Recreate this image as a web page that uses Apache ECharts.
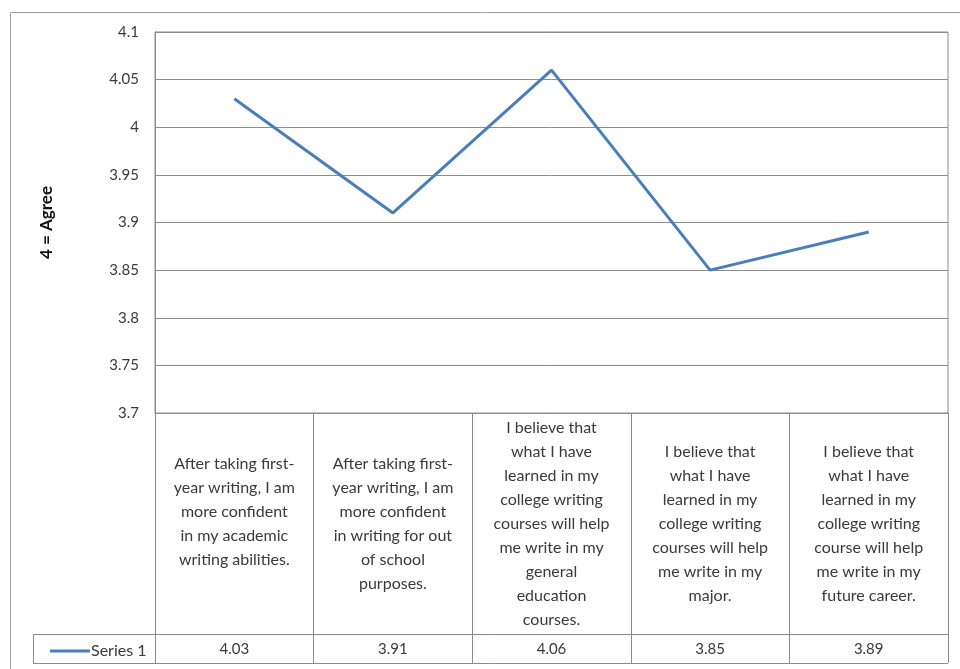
<!DOCTYPE html>
<html>
<head>
<meta charset="utf-8">
<script src="https://cdn.jsdelivr.net/npm/echarts@6/dist/echarts.min.js"></script>
<style>
  html, body { margin: 0; padding: 0; background: #fff; }
  #chart { width: 960px; height: 669px; }
</style>
</head>
<body>
<div id="chart"></div>
<script>
// Survey statements (one per column of the data table)
const categories = [
  'After taking first-\nyear writing, I am\nmore confident\nin my academic\nwriting abilities.\n',
  'After taking first-\nyear writing, I am\nmore confident\nin writing for out\nof school\npurposes.',
  'I believe that\nwhat I have\nlearned in my\ncollege writing\ncourses will help\nme write in my\ngeneral\neducation\ncourses.',
  'I believe that\nwhat I have\nlearned in my\ncollege writing\ncourses will help\nme write in my\nmajor.',
  'I believe that\nwhat I have\nlearned in my\ncollege writing\ncourse will help\nme write in my\nfuture career.'
];
// Mean agreement score per statement
const seriesName = 'Series 1';
const seriesValues = [4.03, 3.91, 4.06, 3.85, 3.89];
// Value axis range
const yMin = 3.7;
const yMax = 4.1;
const yStep = 0.05;
const yTitle = '4 = Agree';

// Layout
const W = 960, H = 669;
const plotLeft = 155, plotRight = 948, plotTop = 32, plotBottom = 413;
const tableRowTop = 634, tableBottom = 663, legendCellLeft = 33;
const gridColor = '#8c8c8c';
const textColor = '#3a3a3a';
const lineColor = '#4a7ebb';
const font = 'Lato';

const chart = echarts.init(document.getElementById('chart'), null, { renderer: 'canvas' });

chart.setOption({
  backgroundColor: '#ffffff',
  animation: false,
  textStyle: { fontFamily: font, color: textColor },
  grid: {
    left: plotLeft, right: W - plotRight, top: plotTop, bottom: H - plotBottom,
    show: true, borderColor: gridColor, borderWidth: 1
  },
  legend: {
    data: [{ name: seriesName, icon: 'rect' }],
    left: 45, top: tableRowTop + 4,
    itemWidth: 40, itemHeight: 3, itemGap: 0,
    itemStyle: { color: lineColor },
    textStyle: { fontFamily: font, fontSize: 16, color: textColor, padding: [0, 0, 0, -4] }
  },
  xAxis: [
    {
      type: 'category',
      data: categories,
      boundaryGap: true,
      axisLine: { show: true, lineStyle: { color: gridColor, width: 1 } },
      axisTick: {
        show: true, interval: 0, alignWithLabel: false,
        length: tableBottom - plotBottom,
        lineStyle: { color: gridColor, width: 1 }
      },
      axisLabel: {
        interval: 0,
        margin: (tableRowTop - plotBottom) / 2,
        verticalAlign: 'middle',
        align: 'center',
        lineHeight: 24,
        fontSize: 16,
        fontFamily: font,
        color: textColor
      }
    },
    {
      type: 'category',
      data: categories,
      position: 'bottom',
      boundaryGap: true,
      axisLine: { show: false },
      axisTick: { show: false },
      axisLabel: {
        interval: 0,
        margin: (tableRowTop + tableBottom) / 2 - plotBottom + 1,
        verticalAlign: 'middle',
        fontSize: 15,
        fontFamily: font,
        color: textColor,
        formatter: (v, i) => seriesValues[i].toFixed(2)
      }
    }
  ],
  yAxis: {
    type: 'value',
    min: yMin, max: yMax, interval: yStep,
    name: yTitle,
    nameLocation: 'middle',
    nameGap: 100,
    nameRotate: 90,
    nameTextStyle: { fontFamily: font, fontSize: 17, fontWeight: 'bold', color: '#111' },
    axisLine: { show: true, lineStyle: { color: gridColor } },
    axisTick: { show: false },
    axisLabel: {
      margin: 16, fontSize: 15, fontFamily: font, color: textColor,
      formatter: v => String(+v.toFixed(2))
    },
    splitLine: { show: true, lineStyle: { color: gridColor, width: 1 } }
  },
  series: [{
    name: seriesName,
    type: 'line',
    data: seriesValues,
    symbol: 'none',
    lineStyle: { color: lineColor, width: 3 },
    itemStyle: { color: lineColor }
  }],
  graphic: [
    // outer chart frame
    { type: 'rect', shape: { x: 10.5, y: 12.5, width: 1000, height: 700 },
      style: { fill: 'none', stroke: '#a0a0a0', lineWidth: 1 }, silent: true },
    // data table: value row borders and legend cell
    { type: 'line', shape: { x1: legendCellLeft, y1: tableRowTop + 0.5, x2: plotRight, y2: tableRowTop + 0.5 },
      style: { stroke: gridColor, lineWidth: 1 }, silent: true },
    { type: 'line', shape: { x1: legendCellLeft, y1: tableBottom + 0.5, x2: plotRight, y2: tableBottom + 0.5 },
      style: { stroke: gridColor, lineWidth: 1 }, silent: true },
    { type: 'line', shape: { x1: legendCellLeft + 0.5, y1: tableRowTop, x2: legendCellLeft + 0.5, y2: tableBottom },
      style: { stroke: gridColor, lineWidth: 1 }, silent: true }
  ]
});
</script>
</body>
</html>
